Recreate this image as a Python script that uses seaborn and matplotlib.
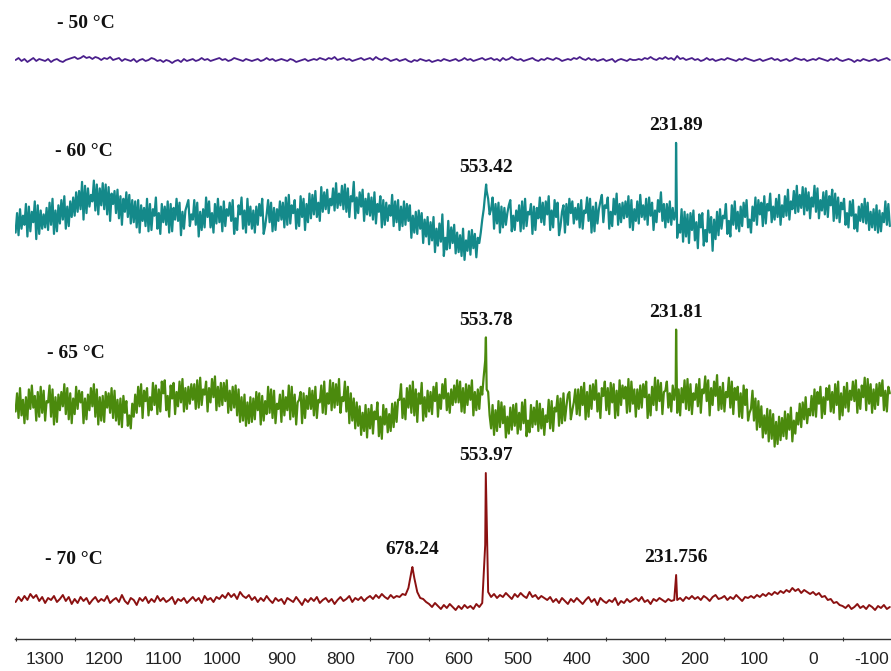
import numpy as np
import pandas as pd
import matplotlib
matplotlib.use("Agg")
import matplotlib.pyplot as plt
from matplotlib.ticker import MultipleLocator
from matplotlib import font_manager
import seaborn as sns

# Chemical shift grids (ppm) from 1350 down to -130
shift_start, shift_stop = 1350, -130
step_coarse = 5.0   # -50 and -70 spectra
step_fine = 2.5     # -60 and -65 spectra

# Baseline-corrected intensities (a.u.), one row per 50 ppm
spec_m50 = [
    0, 2, -1, 1, -2, 0, 2, -1, 1, 0,
    -1, 1, -2, 0, 1, -1, -2, 0, 1, 2,
    3, 1, 2, 4, 2, 3, 1, 3, 2, 0,
    2, 1, 3, 0, 1, 2, -1, 1, 0, -1,
    1, -2, 0, 1, -1, 0, 2, 1, -1, 0,
    -2, 0, -1, -3, -1, 0, -2, 1, -1, 0,
    1, -1, 0, 2, 0, 1, -1, 0, 1, 2,
    0, 1, -1, 0, 2, 1, 0, -1, 1, 0,
    -1, 0, 1, -1, 0, 2, 0, 1, -1, 0,
    1, 0, -1, 1, 0, -2, -1, 0, 1, -1,
    0, 1, 0, 2, 1, 0, 2, 1, 3, 0,
    1, 2, 0, 1, -1, 0, 1, 2, 0, 1,
    2, 0, 3, 1, 0, 2, 1, -1, 0, 1,
    -1, 0, 1, -1, -2, 0, -1, 1, 0, -1,
    0, -2, -1, 0, -1, 1, 0, -1, 0, 1,
    -1, 0, 2, 0, 1, -1, 0, 1, 2, 0,
    1, 2, 0, 1, -1, 2, 0, 1, 3, 1,
    0, 1, -1, 0, 1, 2, 0, -1, 1, 0,
    2, 1, 0, 2, 1, -1, 0, 1, 0, 2,
    1, 3, 1, 0, 2, 0, 1, -1, 0, 1,
    -1, 0, 1, -2, 0, 1, 0, -1, 1, 0,
    0, 1, 0, 2, 1, 3, 1, 0, 2, 1,
    3, 1, 2, 0, 4, 1, 2, 0, 1, 2,
    0, 1, -1, 0, 2, 0, 1, -1, 0, 1,
    0, 2, 1, 0, -1, 1, 0, 2, 1, 0,
    -1, 0, 1, -1, 0, 1, 2, 0, 1, -1,
    0, 1, -1, 0, 2, 1, 0, 1, -1, 0,
    1, 0, 2, 1, 0, -1, 1, 0, 2, 0,
    -1, 0, 1, 0, -2, 0, -1, 1, 0, -1,
    0, 1, -1, 0, 1, 2, 0,
]

spec_m60 = [
    -12, 3, -14, 6, -9, 1, -6, 10, -15, 8, -11, 4, -4, 12, -17, 9, -13, 5, -9, 2,
    -8, 7, -10, 11, -6, 14, -13, 5, -11, 9, -5, 13, -2, 16, -9, 8, -7, 12, 0, 15,
    1, 19, 4, 20, 6, 27, -2, 24, 3, 22, 8, 17, 12, 28, 5, 25, 2, 22, 9, 26,
    6, 25, 2, 23, -3, 18, 10, 20, 3, 21, -1, 16, -6, 14, 4, 19, 0, 17, -5, 13,
    -4, 12, -8, 13, -12, 9, -3, 7, -7, 14, -11, 10, -10, 6, 1, 15, -9, 3, -13, 10,
    -4, 8, -6, 12, -12, 10, -11, 7, -2, 14, -3, 11, -14, 4, -9, 5, 9, 13, -7, 2,
    -2, 13, -6, 11, -15, 4, -10, 6, -8, 15, 0, 12, -8, 3, -12, 10, -5, 14, -4, 8,
    -11, 12, -7, 6, 1, 11, -3, 13, -13, -1, -10, 9, 2, 15, -9, 5, -12, 14, -6, 8,
    -9, 5, -12, 8, -6, 10, 1, 14, -13, -7, 2, 13, -4, 11, -11, 7, -10, 6, -3, 12,
    -2, 11, -8, 15, -6, 17, -5, 9, 3, 13, -9, 6, -7, 16, 0, 14, -10, 10, -4, 18,
    -1, 17, 2, 20, 0, 11, -3, 23, 4, 19, 6, 21, 3, 14, 9, 22, 5, 26, 7, 18,
    9, 24, 6, 25, 4, 22, 0, 16, 12, 27, -1, 15, 3, 19, 8, 21, -3, 14, 2, 18,
    1, 15, -2, 19, -5, 10, 4, 16, -8, 13, -6, 11, -3, 9, 1, 17, -7, 12, -4, 13,
    -10, 8, -7, 12, -6, 10, -3, 9, -16, 1, -12, 4, -13, 5, -9, 3, -20, -2, -15, 0,
    -21, -4, -18, 0, -27, -9, -22, -5, -19, 2, -30, -16, -25, -3, -24, -8, -20, -6, -28, -12,
    -27, -14, -30, -9, -33, -18, -26, -11, -29, -10, -24, -13, -31, -16, -20, -12, -2, 6, 18, 20,
    14, 2, 6, 15, -9, 10, -5, 11, -12, 8, -8, 7, -6, 3, 9, 13, -11, 1, -10, 5,
    -3, 9, -11, 12, -9, 14, -7, 4, 2, 10, -13, 8, -10, 7, -1, 15, -4, 11, -6, 12,
    2, 16, -10, 5, -8, 13, 0, 11, -14, -7, 4, 9, -12, 10, -6, 14, 3, 12, -5, 7,
    -2, 10, -8, 13, -9, 5, 3, 15, -3, 14, -12, 8, -11, 11, -5, 6, 12, 17, -4, 9,
    7, 15, -9, 4, -7, 14, 2, 18, -6, 10, -4, 11, -1, 12, 0, 16, -8, 13, -10, 6,
    -3, 12, -5, 17, 0, 9, -2, 14, -6, 15, 1, 11, -10, 5, -4, 13, 4, 19, -3, 10,
    -8, 10, -4, 12, -6, 7, -2, 4, -16, -6, -12, 6, -19, 4, -15, 2, -20, 3, -10, 5,
    -18, -4, -24, 2, -8, 3, -22, -10, -19, 5, -12, 0, -26, -2, -17, 4, -14, 6, -9, 1,
    -1, 10, -13, -3, -15, 9, -6, 12, -9, 4, -11, 8, -7, 11, 0, 13, -8, -2, -12, 8,
    -3, 15, -6, 13, 2, 11, -7, 16, -5, 10, 5, 18, -4, 8, -2, 14, 0, 17, -6, 9,
    0, 16, 1, 21, -2, 12, 6, 20, 3, 24, 4, 17, 7, 23, 2, 22, 5, 19, -1, 15,
    8, 24, 4, 22, -1, 13, 5, 19, 2, 20, 0, 16, 9, 21, -3, 18, -1, 15, -4, 11,
    6, 14, -6, 3, -8, 12, 1, 13, -9, 2, -11, 8, -3, 10, -4, 14, -5, 11, -10, 4,
    -8, 6, -10, 9, -12, 5, -11, 3, -4, 12, -6, 10, -7,
]

spec_m65 = [
    -5, 9, -10, 13, -8, 4, -14, 6, -11, 12, -3, 15, -2, 7, -12, 10, -9, 14, -6, 11,
    -12, 3, 2, 15, -9, 12, -15, 6, -13, 8, -4, 10, -1, 16, -7, 13, -11, 9, -14, 5,
    -7, 14, -3, 11, 2, 10, -14, 5, -11, 8, -4, 13, -1, 16, -9, 12, -15, 6, -12, 7,
    -13, 10, -2, 9, -6, 13, -10, 11, -12, 4, -15, 5, -17, 7, -6, 3, -16, -8, -18, 1,
    -9, 8, -6, 14, -1, 16, -10, 11, 3, 13, -8, 6, -4, 17, 0, 15, -7, 12, -5, 18,
    9, 19, -4, 7, -9, 15, 5, 17, -7, 10, -1, 18, 2, 20, -5, 13, -3, 14, 1, 16,
    4, 16, -3, 19, -2, 21, 0, 12, 8, 18, -5, 13, 2, 20, 6, 22, -4, 14, -1, 17,
    0, 17, 3, 19, -6, 11, -4, 14, -2, 15, -8, 12, -13, 6, -12, 8, -16, 2, -14, 6,
    -13, 5, -11, 10, -4, 9, -15, 7, -12, 3, -7, 14, -6, 12, -10, 11, -14, 1, -3, 8,
    -13, 11, -8, 6, -4, 15, -11, 14, -9, 8, -15, 2, 4, 10, -14, 9, -10, 7, -3, 13,
    -3, 11, -8, 14, -10, 4, 2, 15, -6, 18, -7, 9, 1, 19, -4, 17, -2, 16, 0, 20,
    -6, 6, 3, 18, -5, 14, -14, 9, -12, 5, -18, 2, -16, -1, -23, -6, -20, 0, -25, -3,
    -18, 0, -22, -5, -11, 2, -24, -9, -26, 0, -15, -3, -21, -7, -20, 1, -17, 2, -13, 4,
    4, 16, -10, 5, -11, 13, -2, 15, -6, 18, -8, 12, -13, 9, 1, 17, -12, 6, -9, 11,
    -5, 10, -7, 14, 3, 17, -9, 8, -3, 16, 5, 20, -4, 9, -6, 12, 0, 15, 2, 19,
    2, 18, -5, 13, -6, 16, 0, 15, 4, 19, -8, 10, -4, 12, -3, 14, 8, 22, 34, 12,
    10, -8, -18, 0, -23, -4, -20, 3, -17, 2, -14, -1, -25, -9, -22, -2, -19, 0, -16, 1,
    -22, -6, -19, 2, -14, 4, -24, -12, -21, 0, -17, -2, -15, 3, -20, 1, -18, -3, -23, -8,
    -13, 4, -18, 3, -20, -2, -5, 7, -16, 5, -14, 9, -12, -1, 8, 10, -11, -4, 2, 12,
    -7, 12, -8, 14, 0, 17, -11, 10, -9, 15, -3, 16, 4, 19, -5, 9, -10, 13, 7, 18,
    -4, 13, -7, 17, 2, 16, -10, 11, -8, 19, 0, 15, 5, 14, -6, 20, -5, 18, 1, 12,
    -9, 12, -3, 15, -2, 16, 6, 18, -10, 8, -8, 14, 0, 21, -4, 19, 3, 17, -7, 10,
    11, 18, -2, 9, -5, 15, 4, 14, -6, 12, -8, 13, 2, 19, -3, 20, -4, 16, -7, 9,
    4, 16, -1, 20, -6, 12, 9, 22, 3, 19, -8, 13, 0, 18, 7, 23, -4, 14, -3, 17,
    -5, 10, 6, 21, -2, 18, -7, 13, 4, 14, -9, 9, -10, 15, 0, 12, -12, -6, -3, 11,
    -12, 5, -19, 3, -17, -1, -25, -8, -22, -3, -28, -4, -26, -7, -32, -13, -30, -9, -27, -10,
    -24, -5, -26, -7, -19, -2, -28, -12, -22, -6, -15, 1, -17, 2, -11, 6, -14, -3, -8, 7,
    -8, 12, -9, 10, 1, 14, -10, 6, -7, 13, 4, 15, -5, 10, -6, 16, 0, 18, -11, 9,
    -8, 14, -2, 17, -5, 11, 4, 18, 3, 19, -6, 12, -3, 15, 6, 21, -4, 20, 1, 16,
    -6, 12, -3, 16, 0, 17, 7, 19, -4, 11, -5, 14, 9,
]

spec_m70 = [
    -2, 3, -1, 4, 0, 6, 2, 5, -1, 3,
    -3, 2, 0, 4, -2, 1, 5, -1, 3, -4,
    1, -3, 3, -1, 2, -4, 0, 3, -2, 1,
    -1, 4, -3, 0, 2, -2, 5, -1, -4, 2,
    0, -5, 2, -1, 3, -3, 1, -2, 4, -1,
    2, -2, 0, 3, -4, 1, -1, 2, -3, 0,
    3, -1, 2, -3, 4, 0, 2, -2, 3, 1,
    5, 2, 7, 3, 6, 1, 8, 4, 2, 5,
    0, 3, -2, 2, -1, 4, 0, -3, 2, -1,
    1, -4, 2, 0, -2, 3, -1, -5, 1, -2,
    2, -1, 3, -3, 0, 2, -2, 1, -4, 0,
    3, -1, 1, 4, -2, 2, 0, 3, -1, 2,
    4, 1, 5, 2, 6, 3, 1, 5, 2, 4,
    3, 6, 5, 12, 28, 22, 8, 2, 1, -2,
    -4, -7, -3, -6, -9, -5, -8, -4, -7, -10,
    -6, -9, -5, -8, -6, -9, -4, -7, -3, 55,
    8, 3, 6, 2, 5, 3, 7, 4, 1, 6,
    3, 7, 4, 2, 8, 3, 5, 1, 4, 2,
    0, 3, -2, 1, -3, 2, -1, -4, 1, -2,
    2, -1, -4, 0, 3, -2, 1, -5, 2, -1,
    -3, 0, -2, 2, -5, -1, -3, 1, -2, 0,
    2, -1, 3, -2, 0, -4, 1, -1, 2, 0,
    -2, 1, -1, 0, 0, 2, -1, 3, 1, 4,
    1, 3, 0, 4, 2, -1, 3, 5, 1, 2,
    4, 0, 3, 1, 5, 2, -1, 3, 2, 4,
    2, 5, 3, 6, 4, 7, 5, 8, 6, 9,
    7, 10, 8, 12, 9, 11, 7, 10, 8, 6,
    8, 5, 7, 3, 4, 0, 1, -3, -2, -5,
    -6, -8, -5, -9, -7, -4, -8, -6, -9, -5,
    -7, -10, -6, -8, -5, -9, -7,
]

# Peak maxima (ppm, intensity) for each temperature
peaks_m50 = ([], [])
peaks_m60 = ([553.42, 231.89], [25, 57])
peaks_m65 = ([553.78, 231.81], [52, 58])
peaks_m70 = ([678.24, 553.97, 231.756], [33, 127, 25])
peak_labels_m60 = ["553.42", "231.89"]
peak_labels_m65 = ["553.78", "231.81"]
peak_labels_m70 = ["678.24", "553.97", "231.756"]

temperatures = ["- 50 \u00b0C", "- 60 \u00b0C", "- 65 \u00b0C", "- 70 \u00b0C"]

# ---- styling / layout -------------------------------------------------------
sns.set_style("white")
plt.rcParams["axes.unicode_minus"] = False


def pick_font(names):
    for n in names:
        try:
            font_manager.findfont(n, fallback_to_default=False)
            return n
        except Exception:
            continue
    return "DejaVu Sans"


serif_font = pick_font(["Liberation Serif", "DejaVu Serif"])
tick_font = pick_font(["Liberation Sans Narrow", "Liberation Sans", "DejaVu Sans"])

W, H = 891, 671
fig = plt.figure(figsize=(W / 100, H / 100), dpi=100)
spine_px = 639
ax = fig.add_axes([15 / W, (H - spine_px) / H, 1 - 15 / W, spine_px / H])

# Each spectrum is drawn with its own vertical gain and stacking offset
traces = [
    dict(name=temperatures[0], vals=spec_m50, step=step_coarse, peaks=peaks_m50, labels=[],
         color="#4a1f8c", lw=1.3, gain=1.0, offset=579, lab_x=1280, lab_y=615),
    dict(name=temperatures[1], vals=spec_m60, step=step_fine, peaks=peaks_m60,
         labels=peak_labels_m60, color="#14898a", lw=1.6, gain=1.3, offset=422,
         lab_x=1283, lab_y=487),
    dict(name=temperatures[2], vals=spec_m65, step=step_fine, peaks=peaks_m65,
         labels=peak_labels_m65, color="#4b8a0d", lw=1.6, gain=1.3, offset=234,
         lab_x=1297, lab_y=285),
    dict(name=temperatures[3], vals=spec_m70, step=step_coarse, peaks=peaks_m70,
         labels=peak_labels_m70, color="#8b1111", lw=1.4, gain=1.0, offset=39,
         lab_x=1300, lab_y=80),
]

for tr in traces:
    grid = np.arange(shift_start, shift_stop - 0.1, -tr["step"])
    x = np.concatenate([grid, np.array(tr["peaks"][0], dtype=float)])
    y = np.concatenate([np.array(tr["vals"], dtype=float),
                        np.array(tr["peaks"][1], dtype=float)])
    df = pd.DataFrame({"shift": x,
                       "intensity": y * tr["gain"] + tr["offset"]}).sort_values("shift")
    sns.lineplot(data=df, x="shift", y="intensity", color=tr["color"], lw=tr["lw"],
                 estimator=None, sort=True, ax=ax)
    ax.text(tr["lab_x"], tr["lab_y"], tr["name"], ha="left", va="center",
            fontsize=14, fontweight="bold", family=serif_font, color="#111111")
    for px, ph, lab in zip(tr["peaks"][0], tr["peaks"][1], tr["labels"]):
        ax.annotate(lab, xy=(px, ph * tr["gain"] + tr["offset"]), xytext=(0, 17),
                    textcoords="offset pixels", ha="center", va="center",
                    fontsize=14, fontweight="bold", family=serif_font, color="#111111")

ax.set_xlim(1351, -132)
ax.set_ylim(0, spine_px)
ax.set_xlabel("")
ax.set_ylabel("")
ax.set_yticks([])
for s in ["left", "right", "top"]:
    ax.spines[s].set_visible(False)
ax.spines["bottom"].set_color("#333333")
ax.spines["bottom"].set_linewidth(1.0)

ax.xaxis.set_major_locator(MultipleLocator(100))
ax.xaxis.set_minor_locator(MultipleLocator(50))
ax.tick_params(axis="x", which="major", direction="out", length=4.5, width=0.9,
               color="#333333", pad=5, labelsize=12.5, labelcolor="#222222")
ax.tick_params(axis="x", which="minor", direction="inout", length=3.5, width=0.8,
               color="#333333", bottom=True)
for t in ax.get_xticklabels():
    t.set_family(tick_font)

fig.savefig("out.png", dpi=100, facecolor="white")
